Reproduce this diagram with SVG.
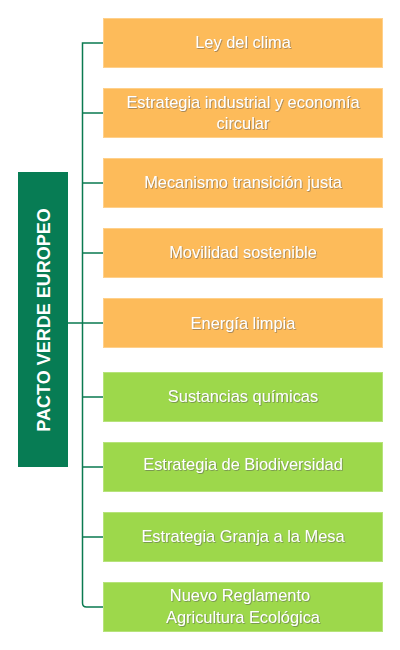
<svg xmlns="http://www.w3.org/2000/svg" width="400" height="650" viewBox="0 0 400 650">
<defs>
<filter id="sh" x="-10%" y="-30%" width="120%" height="160%">
<feDropShadow dx="0.8" dy="0.8" stdDeviation="0.4" flood-color="#555" flood-opacity="0.6"/>
</filter>
<style>
.o{fill:#FDBB5A;stroke:#FFD08A;stroke-width:1}
.g{fill:#9DD84B;stroke:#B6E37A;stroke-width:1}
.t{font-family:"Liberation Sans",Arial,sans-serif;font-size:16.4px;fill:#fff;text-anchor:middle;filter:url(#sh)}
.c{fill:none;stroke:#0A7A50;stroke-width:1.5}
</style>
</defs>
<g id="connectors">
<path class="c" d="M103 43H82.5V603Q82.5 607 86.5 607H103"/>
<path class="c" d="M82.5 113H103M82.5 183H103M82.5 253H103M82.5 323H103M82.5 397H103M82.5 467H103M82.5 537H103M68 323H82.5"/>
</g>
<g id="root">
<rect x="18" y="172" width="50" height="295" fill="#077C54"/>
<text transform="translate(49.5 320) rotate(-90)" font-family="'Liberation Sans',Arial,sans-serif" font-size="18" font-weight="bold" fill="#fff" text-anchor="middle">PACTO VERDE EUROPEO</text>
</g>
<g id="n1"><rect class="o" x="103.5" y="18.5" width="279" height="49"/><text class="t" x="243" y="48">Ley del clima</text></g>
<g id="n2"><rect class="o" x="103.5" y="88.5" width="279" height="49"/><text class="t" x="243" y="107.5">Estrategia industrial y economía</text><text class="t" x="243" y="129">circular</text></g>
<g id="n3"><rect class="o" x="103.5" y="158.5" width="279" height="49"/><text class="t" x="243" y="188">Mecanismo transición justa</text></g>
<g id="n4"><rect class="o" x="103.5" y="228.5" width="279" height="49"/><text class="t" x="243" y="258">Movilidad sostenible</text></g>
<g id="n5"><rect class="o" x="103.5" y="298.5" width="279" height="49"/><text class="t" x="243" y="328.5">Energía limpia</text></g>
<g id="n6"><rect class="g" x="103.5" y="372.5" width="279" height="49"/><text class="t" x="243" y="402">Sustancias químicas</text></g>
<g id="n7"><rect class="g" x="103.5" y="442.5" width="279" height="49"/><text class="t" x="243" y="470">Estrategia de Biodiversidad</text></g>
<g id="n8"><rect class="g" x="103.5" y="512.5" width="279" height="49"/><text class="t" x="243" y="542">Estrategia Granja a la Mesa</text></g>
<g id="n9"><rect class="g" x="103.5" y="582.5" width="279" height="49"/><text class="t" x="240" y="601">Nuevo Reglamento</text><text class="t" x="243" y="623">Agricultura Ecológica</text></g>
</svg>
